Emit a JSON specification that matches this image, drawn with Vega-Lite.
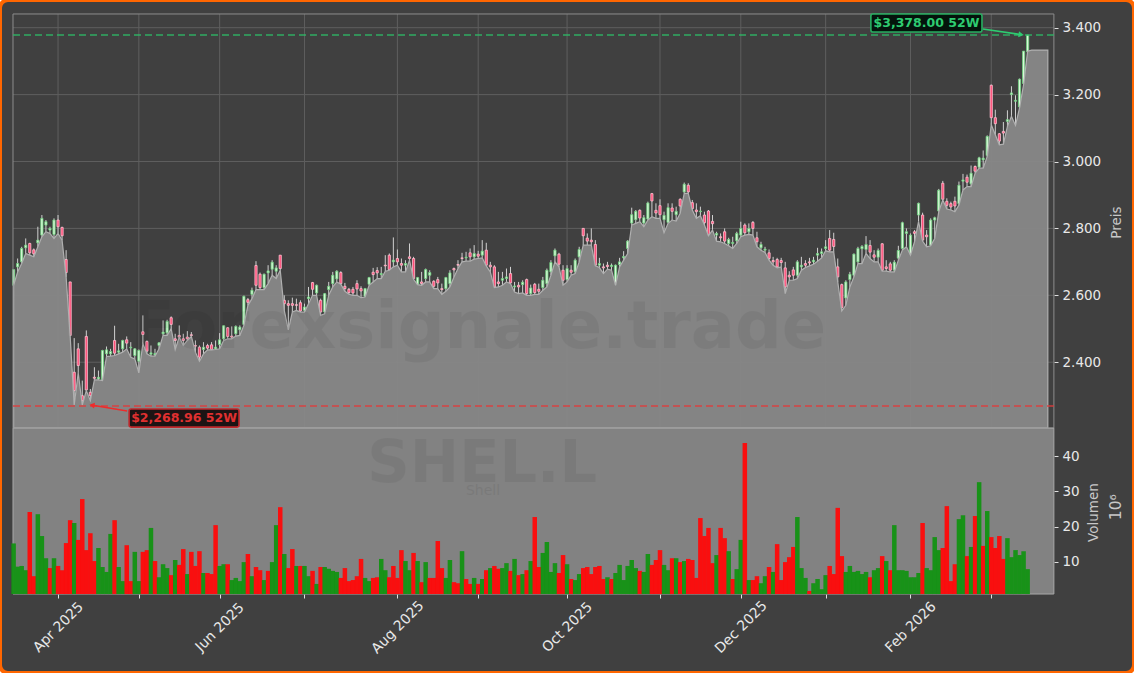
{"$schema":"https://vega.github.io/schema/vega-lite/v6.json","width":1134,"height":673,"padding":0,"autosize":"none","background":"#ffffff","view":{"stroke":"#ff6600","strokeWidth":4,"cornerRadius":8,"fill":"#404040"},"config":{"font":"DejaVu Sans"},
"datasets":{"rows":[
{"i":0,"o":2630,"h":2677,"l":2630,"c":2677,"v":15.2,"vc":"g"},{"i":1,"o":2685,"h":2710,"l":2670,"c":2695,"v":8.6,"vc":"g"},{"i":2,"o":2700,"h":2745,"l":2695,"c":2740,"v":8.8,"vc":"g"},{"i":3,"o":2742,"h":2770,"l":2725,"c":2750,"v":7.6,"vc":"g"},{"i":4,"o":2755,"h":2757,"l":2720,"c":2727,"v":24.1,"vc":"r"},{"i":5,"o":2736,"h":2740,"l":2715,"c":2724,"v":5.9,"vc":"r"},{"i":6,"o":2757,"h":2805,"l":2745,"c":2765,"v":23.5,"vc":"g"},{"i":7,"o":2780,"h":2840,"l":2775,"c":2830,"v":17.3,"vc":"g"},{"i":8,"o":2810,"h":2825,"l":2790,"c":2820,"v":11.0,"vc":"g"},{"i":9,"o":2795,"h":2805,"l":2785,"c":2800,"v":8.2,"vc":"r"},
{"i":10,"o":2782,"h":2830,"l":2770,"c":2825,"v":11.0,"vc":"g"},{"i":11,"o":2825,"h":2840,"l":2785,"c":2805,"v":8.8,"vc":"r"},{"i":12,"o":2803,"h":2805,"l":2765,"c":2778,"v":7.6,"vc":"r"},{"i":13,"o":2707,"h":2735,"l":2655,"c":2668,"v":15.3,"vc":"r"},{"i":14,"o":2640,"h":2640,"l":2478,"c":2480,"v":21.8,"vc":"r"},{"i":15,"o":2370,"h":2472,"l":2272,"c":2315,"v":21.0,"vc":"g"},{"i":16,"o":2440,"h":2457,"l":2368,"c":2390,"v":16.2,"vc":"r"},{"i":17,"o":2300,"h":2345,"l":2272,"c":2285,"v":27.8,"vc":"r"},{"i":18,"o":2477,"h":2495,"l":2315,"c":2317,"v":13.3,"vc":"r"},{"i":19,"o":2310,"h":2320,"l":2285,"c":2300,"v":18.1,"vc":"r"},
{"i":20,"o":2355,"h":2385,"l":2347,"c":2352,"v":10.2,"vc":"r"},{"i":21,"o":2350,"h":2375,"l":2347,"c":2355,"v":13.9,"vc":"g"},{"i":22,"o":2347,"h":2437,"l":2345,"c":2435,"v":8.5,"vc":"g"},{"i":23,"o":2425,"h":2447,"l":2417,"c":2437,"v":7.1,"vc":"g"},{"i":24,"o":2425,"h":2440,"l":2418,"c":2432,"v":17.9,"vc":"g"},{"i":25,"o":2465,"h":2509,"l":2420,"c":2427,"v":21.8,"vc":"r"},{"i":26,"o":2430,"h":2455,"l":2425,"c":2434,"v":8.5,"vc":"g"},{"i":27,"o":2440,"h":2467,"l":2430,"c":2465,"v":4.5,"vc":"g"},{"i":28,"o":2467,"h":2477,"l":2440,"c":2457,"v":14.7,"vc":"r"},{"i":29,"o":2443,"h":2460,"l":2415,"c":2445,"v":4.5,"vc":"r"},
{"i":30,"o":2420,"h":2442,"l":2410,"c":2440,"v":12.8,"vc":"g"},{"i":31,"o":2403,"h":2438,"l":2368,"c":2435,"v":4.5,"vc":"g"},{"i":32,"o":2491,"h":2540,"l":2455,"c":2483,"v":12.8,"vc":"r"},{"i":33,"o":2462,"h":2465,"l":2425,"c":2433,"v":13.3,"vc":"r"},{"i":34,"o":2424,"h":2450,"l":2418,"c":2428,"v":19.6,"vc":"g"},{"i":35,"o":2422,"h":2440,"l":2418,"c":2426,"v":10.2,"vc":"r"},{"i":36,"o":2450,"h":2460,"l":2440,"c":2458,"v":5.6,"vc":"g"},{"i":37,"o":2485,"h":2525,"l":2480,"c":2490,"v":9.3,"vc":"g"},{"i":38,"o":2488,"h":2527,"l":2480,"c":2522,"v":8.2,"vc":"g"},{"i":39,"o":2533,"h":2537,"l":2500,"c":2513,"v":6.2,"vc":"r"},
{"i":40,"o":2470,"h":2485,"l":2438,"c":2465,"v":10.5,"vc":"g"},{"i":41,"o":2480,"h":2510,"l":2475,"c":2475,"v":9.1,"vc":"r"},{"i":42,"o":2470,"h":2485,"l":2450,"c":2465,"v":13.6,"vc":"r"},{"i":43,"o":2475,"h":2493,"l":2465,"c":2470,"v":6.5,"vc":"g"},{"i":44,"o":2482,"h":2490,"l":2477,"c":2480,"v":12.8,"vc":"r"},{"i":45,"o":2450,"h":2465,"l":2430,"c":2448,"v":8.8,"vc":"r"},{"i":46,"o":2445,"h":2450,"l":2403,"c":2415,"v":13.0,"vc":"r"},{"i":47,"o":2438,"h":2460,"l":2425,"c":2445,"v":6.8,"vc":"g"},{"i":48,"o":2450,"h":2455,"l":2437,"c":2442,"v":6.8,"vc":"r"},{"i":49,"o":2452,"h":2460,"l":2437,"c":2438,"v":6.5,"vc":"r"},
{"i":50,"o":2440,"h":2465,"l":2438,"c":2445,"v":20.4,"vc":"r"},{"i":51,"o":2453,"h":2487,"l":2440,"c":2467,"v":8.8,"vc":"g"},{"i":52,"o":2470,"h":2510,"l":2465,"c":2509,"v":9.3,"vc":"g"},{"i":53,"o":2503,"h":2505,"l":2470,"c":2477,"v":9.3,"vc":"r"},{"i":54,"o":2478,"h":2507,"l":2470,"c":2475,"v":4.8,"vc":"g"},{"i":55,"o":2485,"h":2510,"l":2478,"c":2507,"v":5.4,"vc":"g"},{"i":56,"o":2497,"h":2510,"l":2480,"c":2505,"v":4.5,"vc":"g"},{"i":57,"o":2513,"h":2599,"l":2510,"c":2597,"v":9.9,"vc":"g"},{"i":58,"o":2587,"h":2592,"l":2570,"c":2579,"v":12.2,"vc":"r"},{"i":59,"o":2603,"h":2623,"l":2590,"c":2615,"v":5.9,"vc":"g"},
{"i":60,"o":2689,"h":2702,"l":2617,"c":2630,"v":8.5,"vc":"r"},{"i":61,"o":2663,"h":2668,"l":2617,"c":2623,"v":7.6,"vc":"r"},{"i":62,"o":2623,"h":2665,"l":2617,"c":2663,"v":4.8,"vc":"g"},{"i":63,"o":2667,"h":2690,"l":2635,"c":2673,"v":7.4,"vc":"r"},{"i":64,"o":2678,"h":2705,"l":2660,"c":2699,"v":9.9,"vc":"g"},{"i":65,"o":2672,"h":2690,"l":2650,"c":2682,"v":20.4,"vc":"g"},{"i":66,"o":2720,"h":2720,"l":2675,"c":2680,"v":25.5,"vc":"r"},{"i":67,"o":2585,"h":2600,"l":2555,"c":2575,"v":12.2,"vc":"g"},{"i":68,"o":2575,"h":2585,"l":2497,"c":2570,"v":8.2,"vc":"r"},{"i":69,"o":2575,"h":2593,"l":2550,"c":2570,"v":13.6,"vc":"r"},
{"i":70,"o":2572,"h":2590,"l":2555,"c":2570,"v":8.8,"vc":"g"},{"i":71,"o":2578,"h":2585,"l":2550,"c":2553,"v":8.8,"vc":"r"},{"i":72,"o":2555,"h":2575,"l":2550,"c":2565,"v":8.8,"vc":"g"},{"i":73,"o":2590,"h":2625,"l":2575,"c":2595,"v":5.9,"vc":"g"},{"i":74,"o":2638,"h":2640,"l":2600,"c":2618,"v":7.4,"vc":"r"},{"i":75,"o":2607,"h":2632,"l":2600,"c":2630,"v":3.7,"vc":"g"},{"i":76,"o":2585,"h":2590,"l":2540,"c":2550,"v":8.5,"vc":"r"},{"i":77,"o":2550,"h":2607,"l":2545,"c":2605,"v":8.5,"vc":"g"},{"i":78,"o":2617,"h":2640,"l":2600,"c":2627,"v":8.0,"vc":"g"},{"i":79,"o":2635,"h":2670,"l":2625,"c":2660,"v":7.4,"vc":"g"},
{"i":80,"o":2649,"h":2675,"l":2640,"c":2672,"v":7.1,"vc":"g"},{"i":81,"o":2668,"h":2672,"l":2633,"c":2635,"v":5.4,"vc":"r"},{"i":82,"o":2627,"h":2637,"l":2612,"c":2620,"v":8.2,"vc":"r"},{"i":83,"o":2618,"h":2622,"l":2603,"c":2608,"v":4.5,"vc":"r"},{"i":84,"o":2618,"h":2625,"l":2600,"c":2607,"v":4.8,"vc":"r"},{"i":85,"o":2635,"h":2645,"l":2600,"c":2619,"v":5.9,"vc":"r"},{"i":86,"o":2620,"h":2627,"l":2593,"c":2613,"v":10.8,"vc":"r"},{"i":87,"o":2597,"h":2622,"l":2595,"c":2620,"v":5.4,"vc":"g"},{"i":88,"o":2633,"h":2655,"l":2630,"c":2653,"v":4.5,"vc":"g"},{"i":89,"o":2669,"h":2682,"l":2640,"c":2662,"v":5.4,"vc":"r"},
{"i":90,"o":2674,"h":2684,"l":2650,"c":2667,"v":5.6,"vc":"r"},{"i":91,"o":2662,"h":2685,"l":2650,"c":2665,"v":10.8,"vc":"g"},{"i":92,"o":2690,"h":2720,"l":2672,"c":2688,"v":7.6,"vc":"g"},{"i":93,"o":2720,"h":2725,"l":2675,"c":2677,"v":5.6,"vc":"r"},{"i":94,"o":2700,"h":2773,"l":2685,"c":2705,"v":8.8,"vc":"r"},{"i":95,"o":2710,"h":2737,"l":2690,"c":2700,"v":5.4,"vc":"r"},{"i":96,"o":2695,"h":2710,"l":2670,"c":2690,"v":13.3,"vc":"r"},{"i":97,"o":2690,"h":2705,"l":2670,"c":2695,"v":10.2,"vc":"g"},{"i":98,"o":2715,"h":2755,"l":2705,"c":2710,"v":7.6,"vc":"g"},{"i":99,"o":2710,"h":2715,"l":2648,"c":2650,"v":12.5,"vc":"r"},
{"i":100,"o":2633,"h":2655,"l":2632,"c":2653,"v":10.2,"vc":"g"},{"i":101,"o":2640,"h":2670,"l":2630,"c":2635,"v":4.2,"vc":"r"},{"i":102,"o":2650,"h":2680,"l":2640,"c":2677,"v":9.9,"vc":"g"},{"i":103,"o":2660,"h":2675,"l":2640,"c":2668,"v":5.4,"vc":"r"},{"i":104,"o":2642,"h":2645,"l":2620,"c":2627,"v":5.4,"vc":"r"},{"i":105,"o":2647,"h":2655,"l":2620,"c":2637,"v":15.9,"vc":"r"},{"i":106,"o":2620,"h":2635,"l":2603,"c":2617,"v":8.2,"vc":"r"},{"i":107,"o":2620,"h":2655,"l":2612,"c":2653,"v":5.4,"vc":"g"},{"i":108,"o":2635,"h":2675,"l":2625,"c":2667,"v":10.5,"vc":"g"},{"i":109,"o":2680,"h":2683,"l":2655,"c":2676,"v":4.2,"vc":"r"},
{"i":110,"o":2692,"h":2705,"l":2680,"c":2690,"v":3.9,"vc":"r"},{"i":111,"o":2712,"h":2727,"l":2700,"c":2710,"v":13.0,"vc":"g"},{"i":112,"o":2712,"h":2730,"l":2702,"c":2714,"v":5.1,"vc":"r"},{"i":113,"o":2727,"h":2740,"l":2702,"c":2715,"v":3.7,"vc":"r"},{"i":114,"o":2715,"h":2750,"l":2708,"c":2725,"v":5.4,"vc":"g"},{"i":115,"o":2723,"h":2733,"l":2710,"c":2717,"v":3.7,"vc":"r"},{"i":116,"o":2720,"h":2765,"l":2712,"c":2732,"v":5.1,"vc":"g"},{"i":117,"o":2735,"h":2757,"l":2688,"c":2690,"v":7.6,"vc":"r"},{"i":118,"o":2690,"h":2700,"l":2670,"c":2685,"v":8.2,"vc":"g"},{"i":119,"o":2685,"h":2690,"l":2623,"c":2625,"v":8.8,"vc":"r"},
{"i":120,"o":2640,"h":2670,"l":2625,"c":2635,"v":8.0,"vc":"r"},{"i":121,"o":2645,"h":2670,"l":2630,"c":2650,"v":8.2,"vc":"g"},{"i":122,"o":2650,"h":2680,"l":2640,"c":2655,"v":9.6,"vc":"g"},{"i":123,"o":2665,"h":2685,"l":2635,"c":2637,"v":7.4,"vc":"r"},{"i":124,"o":2625,"h":2640,"l":2610,"c":2628,"v":10.8,"vc":"g"},{"i":125,"o":2630,"h":2640,"l":2605,"c":2625,"v":6.2,"vc":"r"},{"i":126,"o":2632,"h":2645,"l":2607,"c":2639,"v":6.5,"vc":"g"},{"i":127,"o":2647,"h":2650,"l":2600,"c":2605,"v":7.6,"vc":"r"},{"i":128,"o":2605,"h":2632,"l":2600,"c":2622,"v":10.2,"vc":"g"},{"i":129,"o":2633,"h":2637,"l":2603,"c":2608,"v":22.7,"vc":"r"},
{"i":130,"o":2618,"h":2635,"l":2603,"c":2612,"v":8.5,"vc":"r"},{"i":131,"o":2623,"h":2655,"l":2615,"c":2645,"v":12.5,"vc":"g"},{"i":132,"o":2635,"h":2680,"l":2625,"c":2675,"v":15.6,"vc":"g"},{"i":133,"o":2670,"h":2705,"l":2660,"c":2698,"v":7.1,"vc":"g"},{"i":134,"o":2718,"h":2740,"l":2700,"c":2735,"v":9.6,"vc":"g"},{"i":135,"o":2723,"h":2727,"l":2685,"c":2693,"v":6.8,"vc":"r"},{"i":136,"o":2675,"h":2690,"l":2630,"c":2645,"v":11.9,"vc":"r"},{"i":137,"o":2647,"h":2690,"l":2640,"c":2680,"v":9.3,"vc":"g"},{"i":138,"o":2675,"h":2690,"l":2660,"c":2669,"v":5.1,"vc":"r"},{"i":139,"o":2670,"h":2710,"l":2665,"c":2705,"v":4.8,"vc":"g"},
{"i":140,"o":2715,"h":2745,"l":2700,"c":2737,"v":6.5,"vc":"g"},{"i":141,"o":2800,"h":2800,"l":2750,"c":2778,"v":8.2,"vc":"r"},{"i":142,"o":2771,"h":2785,"l":2750,"c":2762,"v":8.5,"vc":"r"},{"i":143,"o":2765,"h":2800,"l":2750,"c":2760,"v":6.5,"vc":"r"},{"i":144,"o":2752,"h":2765,"l":2688,"c":2690,"v":8.5,"vc":"r"},{"i":145,"o":2690,"h":2712,"l":2683,"c":2695,"v":8.8,"vc":"r"},{"i":146,"o":2685,"h":2695,"l":2665,"c":2682,"v":5.1,"vc":"r"},{"i":147,"o":2690,"h":2700,"l":2678,"c":2686,"v":5.6,"vc":"g"},{"i":148,"o":2686,"h":2695,"l":2675,"c":2690,"v":5.1,"vc":"r"},{"i":149,"o":2632,"h":2692,"l":2630,"c":2690,"v":6.8,"vc":"g"},
{"i":150,"o":2692,"h":2712,"l":2685,"c":2700,"v":9.1,"vc":"g"},{"i":151,"o":2712,"h":2732,"l":2705,"c":2716,"v":4.8,"vc":"g"},{"i":152,"o":2740,"h":2765,"l":2725,"c":2762,"v":8.8,"vc":"g"},{"i":153,"o":2816,"h":2862,"l":2810,"c":2841,"v":10.5,"vc":"g"},{"i":154,"o":2826,"h":2855,"l":2815,"c":2851,"v":8.2,"vc":"g"},{"i":155,"o":2854,"h":2857,"l":2820,"c":2831,"v":7.4,"vc":"r"},{"i":156,"o":2816,"h":2840,"l":2805,"c":2832,"v":7.1,"vc":"g"},{"i":157,"o":2828,"h":2880,"l":2825,"c":2876,"v":12.2,"vc":"g"},{"i":158,"o":2904,"h":2906,"l":2835,"c":2882,"v":9.1,"vc":"r"},{"i":159,"o":2854,"h":2875,"l":2830,"c":2846,"v":10.5,"vc":"r"},
{"i":160,"o":2868,"h":2887,"l":2830,"c":2841,"v":13.3,"vc":"r"},{"i":161,"o":2826,"h":2850,"l":2787,"c":2839,"v":9.1,"vc":"g"},{"i":162,"o":2818,"h":2875,"l":2815,"c":2862,"v":7.6,"vc":"g"},{"i":163,"o":2861,"h":2875,"l":2825,"c":2851,"v":11.0,"vc":"r"},{"i":164,"o":2841,"h":2865,"l":2822,"c":2851,"v":11.0,"vc":"g"},{"i":165,"o":2887,"h":2890,"l":2845,"c":2867,"v":9.9,"vc":"r"},{"i":166,"o":2909,"h":2937,"l":2905,"c":2932,"v":10.2,"vc":"g"},{"i":167,"o":2929,"h":2935,"l":2905,"c":2909,"v":10.8,"vc":"r"},{"i":168,"o":2877,"h":2885,"l":2855,"c":2859,"v":10.5,"vc":"r"},{"i":169,"o":2855,"h":2875,"l":2830,"c":2850,"v":5.4,"vc":"r"},
{"i":170,"o":2850,"h":2865,"l":2838,"c":2852,"v":22.4,"vc":"r"},{"i":171,"o":2840,"h":2850,"l":2810,"c":2817,"v":17.3,"vc":"r"},{"i":172,"o":2852,"h":2855,"l":2778,"c":2780,"v":19.6,"vc":"r"},{"i":173,"o":2821,"h":2840,"l":2795,"c":2814,"v":9.6,"vc":"r"},{"i":174,"o":2780,"h":2790,"l":2762,"c":2785,"v":11.9,"vc":"g"},{"i":175,"o":2775,"h":2785,"l":2760,"c":2772,"v":19.6,"vc":"r"},{"i":176,"o":2790,"h":2800,"l":2755,"c":2762,"v":16.7,"vc":"r"},{"i":177,"o":2755,"h":2772,"l":2748,"c":2767,"v":13.0,"vc":"g"},{"i":178,"o":2755,"h":2775,"l":2740,"c":2758,"v":5.1,"vc":"r"},{"i":179,"o":2763,"h":2790,"l":2755,"c":2785,"v":7.9,"vc":"g"},
{"i":180,"o":2780,"h":2820,"l":2775,"c":2800,"v":16.2,"vc":"g"},{"i":181,"o":2810,"h":2815,"l":2780,"c":2787,"v":43.7,"vc":"r"},{"i":182,"o":2790,"h":2815,"l":2782,"c":2800,"v":4.8,"vc":"g"},{"i":183,"o":2818,"h":2822,"l":2780,"c":2800,"v":4.8,"vc":"r"},{"i":184,"o":2772,"h":2790,"l":2745,"c":2760,"v":5.9,"vc":"r"},{"i":185,"o":2742,"h":2760,"l":2735,"c":2752,"v":3.9,"vc":"g"},{"i":186,"o":2735,"h":2745,"l":2728,"c":2738,"v":5.9,"vc":"g"},{"i":187,"o":2727,"h":2737,"l":2705,"c":2710,"v":8.5,"vc":"r"},{"i":188,"o":2704,"h":2715,"l":2690,"c":2700,"v":7.1,"vc":"g"},{"i":189,"o":2707,"h":2712,"l":2682,"c":2685,"v":15.0,"vc":"r"},
{"i":190,"o":2704,"h":2712,"l":2685,"c":2698,"v":4.8,"vc":"r"},{"i":191,"o":2682,"h":2700,"l":2605,"c":2625,"v":9.9,"vc":"r"},{"i":192,"o":2660,"h":2672,"l":2645,"c":2655,"v":11.3,"vc":"r"},{"i":193,"o":2676,"h":2685,"l":2645,"c":2660,"v":14.2,"vc":"r"},{"i":194,"o":2660,"h":2705,"l":2650,"c":2700,"v":22.7,"vc":"g"},{"i":195,"o":2685,"h":2715,"l":2675,"c":2690,"v":8.2,"vc":"g"},{"i":196,"o":2695,"h":2705,"l":2683,"c":2690,"v":5.4,"vc":"g"},{"i":197,"o":2700,"h":2712,"l":2688,"c":2697,"v":1.7,"vc":"r"},{"i":198,"o":2700,"h":2715,"l":2693,"c":2705,"v":3.9,"vc":"g"},{"i":199,"o":2720,"h":2742,"l":2702,"c":2725,"v":5.1,"vc":"g"},
{"i":200,"o":2725,"h":2740,"l":2712,"c":2730,"v":2.2,"vc":"g"},{"i":201,"o":2740,"h":2765,"l":2733,"c":2745,"v":6.2,"vc":"g"},{"i":202,"o":2770,"h":2795,"l":2730,"c":2735,"v":8.8,"vc":"r"},{"i":203,"o":2767,"h":2787,"l":2730,"c":2746,"v":6.5,"vc":"r"},{"i":204,"o":2685,"h":2710,"l":2640,"c":2655,"v":25.3,"vc":"r"},{"i":205,"o":2632,"h":2635,"l":2553,"c":2563,"v":11.6,"vc":"r"},{"i":206,"o":2592,"h":2645,"l":2570,"c":2640,"v":7.1,"vc":"g"},{"i":207,"o":2647,"h":2670,"l":2625,"c":2663,"v":8.8,"vc":"g"},{"i":208,"o":2660,"h":2725,"l":2655,"c":2723,"v":7.1,"vc":"g"},{"i":209,"o":2700,"h":2745,"l":2695,"c":2740,"v":7.4,"vc":"g"},
{"i":210,"o":2739,"h":2750,"l":2695,"c":2746,"v":6.5,"vc":"g"},{"i":211,"o":2737,"h":2777,"l":2725,"c":2752,"v":7.1,"vc":"g"},{"i":212,"o":2749,"h":2765,"l":2710,"c":2729,"v":5.6,"vc":"r"},{"i":213,"o":2721,"h":2735,"l":2700,"c":2714,"v":7.6,"vc":"g"},{"i":214,"o":2714,"h":2740,"l":2700,"c":2734,"v":8.2,"vc":"g"},{"i":215,"o":2754,"h":2756,"l":2672,"c":2675,"v":11.6,"vc":"r"},{"i":216,"o":2685,"h":2705,"l":2672,"c":2680,"v":10.2,"vc":"g"},{"i":217,"o":2694,"h":2700,"l":2670,"c":2675,"v":7.6,"vc":"r"},{"i":218,"o":2675,"h":2705,"l":2670,"c":2699,"v":20.4,"vc":"g"},{"i":219,"o":2711,"h":2748,"l":2705,"c":2734,"v":7.6,"vc":"g"},
{"i":220,"o":2740,"h":2820,"l":2735,"c":2817,"v":7.6,"vc":"g"},{"i":221,"o":2785,"h":2800,"l":2745,"c":2790,"v":7.4,"vc":"g"},{"i":222,"o":2722,"h":2785,"l":2720,"c":2780,"v":5.6,"vc":"g"},{"i":223,"o":2790,"h":2795,"l":2760,"c":2785,"v":5.6,"vc":"g"},{"i":224,"o":2840,"h":2877,"l":2820,"c":2875,"v":6.8,"vc":"g"},{"i":225,"o":2840,"h":2847,"l":2762,"c":2765,"v":21.0,"vc":"r"},{"i":226,"o":2780,"h":2795,"l":2745,"c":2775,"v":8.2,"vc":"g"},{"i":227,"o":2750,"h":2830,"l":2748,"c":2825,"v":7.6,"vc":"g"},{"i":228,"o":2825,"h":2835,"l":2770,"c":2832,"v":17.0,"vc":"g"},{"i":229,"o":2852,"h":2918,"l":2850,"c":2914,"v":13.3,"vc":"g"},
{"i":230,"o":2935,"h":2942,"l":2885,"c":2887,"v":13.9,"vc":"r"},{"i":231,"o":2881,"h":2890,"l":2858,"c":2869,"v":25.8,"vc":"r"},{"i":232,"o":2874,"h":2880,"l":2855,"c":2864,"v":4.5,"vc":"r"},{"i":233,"o":2881,"h":2895,"l":2850,"c":2867,"v":9.3,"vc":"r"},{"i":234,"o":2874,"h":2940,"l":2870,"c":2929,"v":22.1,"vc":"g"},{"i":235,"o":2941,"h":2963,"l":2915,"c":2945,"v":23.2,"vc":"g"},{"i":236,"o":2953,"h":2961,"l":2925,"c":2938,"v":11.6,"vc":"r"},{"i":237,"o":2933,"h":2988,"l":2925,"c":2965,"v":14.2,"vc":"g"},{"i":238,"o":2985,"h":2988,"l":2965,"c":2971,"v":23.0,"vc":"r"},{"i":239,"o":2983,"h":3014,"l":2980,"c":3011,"v":32.6,"vc":"g"},
{"i":240,"o":3005,"h":3033,"l":2980,"c":3010,"v":14.5,"vc":"r"},{"i":241,"o":3018,"h":3078,"l":3015,"c":3075,"v":24.4,"vc":"g"},{"i":242,"o":3228,"h":3230,"l":3110,"c":3131,"v":17.0,"vc":"r"},{"i":243,"o":3131,"h":3155,"l":3080,"c":3113,"v":13.9,"vc":"r"},{"i":244,"o":3083,"h":3085,"l":3050,"c":3061,"v":17.3,"vc":"r"},{"i":245,"o":3090,"h":3118,"l":3052,"c":3085,"v":10.8,"vc":"r"},{"i":246,"o":3120,"h":3153,"l":3105,"c":3125,"v":16.7,"vc":"g"},{"i":247,"o":3200,"h":3225,"l":3135,"c":3205,"v":11.3,"vc":"g"},{"i":248,"o":3180,"h":3198,"l":3108,"c":3183,"v":13.3,"vc":"g"},{"i":249,"o":3163,"h":3248,"l":3160,"c":3246,"v":11.9,"vc":"g"},
{"i":250,"o":3233,"h":3330,"l":3230,"c":3330,"v":13.0,"vc":"g"},{"i":251,"o":3328,"h":3378,"l":3330,"c":3378,"v":7.9,"vc":"g"},
{"i":252,"l":3333},{"i":253,"l":3333},{"i":254,"l":3333},{"i":255,"l":3333},{"i":256,"l":3333}],
"gridY":[{"p":3400},{"p":3200},{"p":3000},{"p":2800},{"p":2600},{"p":2400}],
"gridX":[{"t":11},{"t":31},{"t":51},{"t":72},{"t":95},{"t":115},{"t":137},{"t":160},{"t":180},{"t":201},{"t":222},{"t":242}]},
"layer":[
{"resolve":{"axis":{"x":"independent","y":"independent"}},"layer":[
{"data":{"name":"gridY"},"mark":{"type":"rule","color":"#5e5e5e","strokeWidth":1},"encoding":{"x":{"datum":-0.15,"type":"quantitative","scale":{"domain":[-3.366,277.33],"nice":false,"zero":false,"padding":0},"axis":{"values":[11,31,51,72,95,115,137,160,180,201,222,242],"orient":"bottom","offset":-79,"title":null,"grid":false,"domain":false,"tickColor":"#e0e0e0","tickSize":4,"labelColor":"#e8e8e8","labelFontSize":14,"labelFont":"DejaVu Sans","labelAngle":-45,"labelAlign":"center","labelBaseline":"middle","labelPadding":29,"labelOverlap":false,"labelFlush":false,"labelBound":false,"labelExpr":"datum.value==11?'Apr 2025':datum.value==51?'Jun 2025':datum.value==95?'Aug 2025':datum.value==137?'Oct 2025':datum.value==180?'Dec 2025':datum.value==222?'Feb 2026':''"}},"x2":{"datum":257.5},"y":{"field":"p","type":"quantitative","scale":{"domain":[1470.9,3482.8],"nice":false,"zero":false},"axis":{"values":[3400,3200,3000,2800,2600,2400],"orient":"right","offset":-80,"grid":false,"domain":false,"tickColor":"#e0e0e0","tickSize":4,"labelColor":"#e8e8e8","labelFontSize":13.5,"labelFont":"DejaVu Sans","labelPadding":4,"labelOverlap":false,"labelFlush":false,"labelBound":false,"labelExpr":"replace(format(datum.value,','),',','.')","title":"Preis","titleColor":"#c8c8c8","titleFontSize":13.5,"titleFontWeight":"normal","titleFont":"DejaVu Sans","titleAngle":270,"titleAlign":"center","titleBaseline":"middle","titleX":62,"titleY":222}}}},
{"data":{"name":"gridX"},"mark":{"type":"rule","color":"#5e5e5e","strokeWidth":1},"encoding":{"x":{"field":"t","type":"quantitative","axis":null,"scale":{"domain":[-3.366,277.33],"nice":false,"zero":false,"padding":0}},"y":{"datum":3441,"type":"quantitative","axis":null,"scale":{"domain":[1470.9,3482.8],"nice":false,"zero":false}},"y2":{"datum":2203}}},
{"data":{"name":"rows"},"transform":[{"filter":"datum.o!=null"}],"mark":{"type":"rule","color":"#d0d0d0","strokeWidth":1},"encoding":{"x":{"field":"i","type":"quantitative","axis":null,"scale":{"domain":[-3.366,277.33],"nice":false,"zero":false,"padding":0}},"y":{"field":"h","type":"quantitative","axis":null,"scale":{"domain":[1470.9,3482.8],"nice":false,"zero":false}},"y2":{"field":"l"}}},
{"data":{"name":"rows"},"transform":[{"filter":"datum.o!=null"}],"mark":{"type":"bar","width":2.2,"strokeWidth":0.8},"encoding":{"x":{"field":"i","type":"quantitative","axis":null,"scale":{"domain":[-3.366,277.33],"nice":false,"zero":false,"padding":0}},"y":{"field":"o","type":"quantitative","axis":null,"scale":{"domain":[1470.9,3482.8],"nice":false,"zero":false}},"y2":{"field":"c"},"fill":{"condition":{"test":"datum.c>=datum.o","value":"#d8f8d8"},"value":"#ff4d78"},"stroke":{"condition":{"test":"datum.c>=datum.o","value":"#6fd07f"},"value":"#ffc0d0"}}},
{"data":{"name":"rows"},"mark":{"type":"area","fill":"#888888","fillOpacity":0.95,"stroke":"#b0b0b0","strokeWidth":1.2,"interpolate":"linear"},"encoding":{"x":{"field":"i","type":"quantitative","axis":null,"scale":{"domain":[-3.366,277.33],"nice":false,"zero":false,"padding":0}},"y":{"field":"l","type":"quantitative","axis":null,"scale":{"domain":[1470.9,3482.8],"nice":false,"zero":false}},"y2":{"datum":2203}}},
{"data":{"values":[{"panel":"volume"}]},"mark":{"type":"rect","fill":"#828282"},"encoding":{"x":{"datum":-0.15,"type":"quantitative","axis":null,"scale":{"domain":[-3.366,277.33],"nice":false,"zero":false,"padding":0}},"x2":{"datum":257.5},"y":{"datum":2203,"type":"quantitative","axis":null,"scale":{"domain":[1470.9,3482.8],"nice":false,"zero":false}},"y2":{"datum":1707}}},
{"data":{"values":[{"panel":"frame"}]},"mark":{"type":"rect","fill":null,"stroke":"#8c8c8c","strokeWidth":1},"encoding":{"x":{"datum":-0.15,"type":"quantitative","axis":null,"scale":{"domain":[-3.366,277.33],"nice":false,"zero":false,"padding":0}},"x2":{"datum":257.5},"y":{"datum":3441,"type":"quantitative","axis":null,"scale":{"domain":[1470.9,3482.8],"nice":false,"zero":false}},"y2":{"datum":2203}}},
{"data":{"values":[{"panel":"frame2"}]},"mark":{"type":"rect","fill":null,"stroke":"#a8a8a8","strokeWidth":1},"encoding":{"x":{"datum":-0.15,"type":"quantitative","axis":null,"scale":{"domain":[-3.366,277.33],"nice":false,"zero":false,"padding":0}},"x2":{"datum":257.5},"y":{"datum":2203,"type":"quantitative","axis":null,"scale":{"domain":[1470.9,3482.8],"nice":false,"zero":false}},"y2":{"datum":1707}}},
{"data":{"values":[{"w":"Forexsignale.trade"}]},"mark":{"type":"text","font":"DejaVu Sans","fontWeight":"bold","fontSize":65.5,"color":"#000000","opacity":0.05,"align":"center","baseline":"alphabetic"},"encoding":{"text":{"field":"w"},"x":{"datum":115,"type":"quantitative","axis":null,"scale":{"domain":[-3.366,277.33],"nice":false,"zero":false,"padding":0}},"y":{"datum":2442,"type":"quantitative","axis":null,"scale":{"domain":[1470.9,3482.8],"nice":false,"zero":false}}}},
{"data":{"values":[{"w":"SHEL.L"}]},"mark":{"type":"text","font":"DejaVu Sans","fontWeight":"bold","fontSize":59,"color":"#000000","opacity":0.05,"align":"center","baseline":"alphabetic"},"encoding":{"text":{"field":"w"},"x":{"datum":116,"type":"quantitative","axis":null,"scale":{"domain":[-3.366,277.33],"nice":false,"zero":false,"padding":0}},"y":{"datum":2042,"type":"quantitative","axis":null,"scale":{"domain":[1470.9,3482.8],"nice":false,"zero":false}}}},
{"data":{"values":[{"w":"Shell"}]},"mark":{"type":"text","font":"DejaVu Sans","fontSize":14,"color":"#000000","opacity":0.06,"align":"center","baseline":"alphabetic"},"encoding":{"text":{"field":"w"},"x":{"datum":116.2,"type":"quantitative","axis":null,"scale":{"domain":[-3.366,277.33],"nice":false,"zero":false,"padding":0}},"y":{"datum":2003,"type":"quantitative","axis":null,"scale":{"domain":[1470.9,3482.8],"nice":false,"zero":false}}}},
{"data":{"values":[{"level":3378}]},"mark":{"type":"rule","color":"#2fb866","strokeWidth":1.5,"strokeDash":[7,4],"opacity":0.9},"encoding":{"x":{"datum":-0.15,"type":"quantitative","axis":null,"scale":{"domain":[-3.366,277.33],"nice":false,"zero":false,"padding":0}},"x2":{"datum":257.5},"y":{"field":"level","type":"quantitative","axis":null,"scale":{"domain":[1470.9,3482.8],"nice":false,"zero":false}}}},
{"data":{"values":[{"level":2268.96}]},"mark":{"type":"rule","color":"#e03c3c","strokeWidth":1.5,"strokeDash":[7,4],"opacity":0.9},"encoding":{"x":{"datum":-0.15,"type":"quantitative","axis":null,"scale":{"domain":[-3.366,277.33],"nice":false,"zero":false,"padding":0}},"x2":{"datum":257.5},"y":{"field":"level","type":"quantitative","axis":null,"scale":{"domain":[1470.9,3482.8],"nice":false,"zero":false}}}},
{"data":{"values":[{"a":"high"}]},"mark":{"type":"rule","color":"#2ecc71","strokeWidth":1.6},"encoding":{"x":{"datum":239.9,"type":"quantitative","axis":null,"scale":{"domain":[-3.366,277.33],"nice":false,"zero":false,"padding":0}},"x2":{"datum":249.6},"y":{"datum":3396,"type":"quantitative","axis":null,"scale":{"domain":[1470.9,3482.8],"nice":false,"zero":false}},"y2":{"datum":3379}}},
{"data":{"values":[{"a":"high"}]},"mark":{"type":"point","shape":"triangle-right","filled":true,"size":36,"angle":8,"color":"#2ecc71","opacity":1},"encoding":{"x":{"datum":249.4,"type":"quantitative","axis":null,"scale":{"domain":[-3.366,277.33],"nice":false,"zero":false,"padding":0}},"y":{"datum":3379.5,"type":"quantitative","axis":null,"scale":{"domain":[1470.9,3482.8],"nice":false,"zero":false}}}},
{"data":{"values":[{"a":"low"}]},"mark":{"type":"rule","color":"#ef2b2b","strokeWidth":1.6},"encoding":{"x":{"datum":28.1,"type":"quantitative","axis":null,"scale":{"domain":[-3.366,277.33],"nice":false,"zero":false,"padding":0}},"x2":{"datum":19.2},"y":{"datum":2254,"type":"quantitative","axis":null,"scale":{"domain":[1470.9,3482.8],"nice":false,"zero":false}},"y2":{"datum":2272}}},
{"data":{"values":[{"a":"low"}]},"mark":{"type":"point","shape":"triangle-left","filled":true,"size":36,"angle":9,"color":"#ef2b2b","opacity":1},"encoding":{"x":{"datum":19.4,"type":"quantitative","axis":null,"scale":{"domain":[-3.366,277.33],"nice":false,"zero":false,"padding":0}},"y":{"datum":2271.5,"type":"quantitative","axis":null,"scale":{"domain":[1470.9,3482.8],"nice":false,"zero":false}}}},
{"data":{"values":[{"a":"high"}]},"mark":{"type":"rect","fill":"#04140c","stroke":"#27ae60","strokeWidth":1.6,"cornerRadius":2},"encoding":{"x":{"datum":212.2,"type":"quantitative","axis":null,"scale":{"domain":[-3.366,277.33],"nice":false,"zero":false,"padding":0}},"x2":{"datum":239.7},"y":{"datum":3441,"type":"quantitative","axis":null,"scale":{"domain":[1470.9,3482.8],"nice":false,"zero":false}},"y2":{"datum":3387}}},
{"data":{"values":[{"w":"$3,378.00 52W"}]},"mark":{"type":"text","font":"DejaVu Sans","fontWeight":"bold","fontSize":12.5,"color":"#2ecc71","align":"center","baseline":"middle"},"encoding":{"text":{"field":"w"},"x":{"datum":225.96,"type":"quantitative","axis":null,"scale":{"domain":[-3.366,277.33],"nice":false,"zero":false,"padding":0}},"y":{"datum":3414,"type":"quantitative","axis":null,"scale":{"domain":[1470.9,3482.8],"nice":false,"zero":false}}}},
{"data":{"values":[{"a":"low"}]},"mark":{"type":"rect","fill":"#1c1414","stroke":"#c0282c","strokeWidth":1.6,"cornerRadius":2},"encoding":{"x":{"datum":28.6,"type":"quantitative","axis":null,"scale":{"domain":[-3.366,277.33],"nice":false,"zero":false,"padding":0}},"x2":{"datum":55.8},"y":{"datum":2260,"type":"quantitative","axis":null,"scale":{"domain":[1470.9,3482.8],"nice":false,"zero":false}},"y2":{"datum":2206}}},
{"data":{"values":[{"w":"$2,268.96 52W"}]},"mark":{"type":"text","font":"DejaVu Sans","fontWeight":"bold","fontSize":12.5,"color":"#e03030","align":"center","baseline":"middle"},"encoding":{"text":{"field":"w"},"x":{"datum":42.2,"type":"quantitative","axis":null,"scale":{"domain":[-3.366,277.33],"nice":false,"zero":false,"padding":0}},"y":{"datum":2233,"type":"quantitative","axis":null,"scale":{"domain":[1470.9,3482.8],"nice":false,"zero":false}}}}
]},
{"resolve":{"axis":{"x":"independent","y":"independent"}},"layer":[
{"data":{"name":"rows"},"transform":[{"filter":"datum.v!=null"}],"mark":{"type":"bar","width":4.5,"opacity":0.95},"encoding":{"x":{"field":"i","type":"quantitative","axis":null,"scale":{"domain":[-3.366,277.33],"nice":false,"zero":false,"padding":0}},"y":{"field":"v","type":"quantitative","scale":{"domain":[-21.6,169.55],"nice":false,"zero":false},"axis":{"values":[10,20,30,40],"orient":"right","offset":-80,"grid":false,"domain":false,"tickColor":"#e0e0e0","tickSize":4,"labelColor":"#e8e8e8","labelFontSize":13.5,"labelFont":"DejaVu Sans","labelPadding":4,"labelOverlap":false,"labelFlush":false,"labelBound":false,"title":"Volumen","titleColor":"#c8c8c8","titleFontSize":13.5,"titleFontWeight":"normal","titleFont":"DejaVu Sans","titleAngle":270,"titleAlign":"center","titleBaseline":"middle","titleX":39,"titleY":512}},"y2":{"datum":0.82},"fill":{"condition":{"test":"datum.vc=='g'","value":"#129212"},"value":"#ff0808"}}},
{"data":{"values":[{"w":"10⁶"}]},"mark":{"type":"text","font":"DejaVu Sans","fontSize":15.5,"color":"#c8c8c8","angle":270,"align":"center","baseline":"middle"},"encoding":{"text":{"field":"w"},"x":{"datum":272.9,"type":"quantitative","axis":null,"scale":{"domain":[-3.366,277.33],"nice":false,"zero":false,"padding":0}},"y":{"datum":25.5,"type":"quantitative","axis":null,"scale":{"domain":[-21.6,169.55],"nice":false,"zero":false}}}}
]}
],
"resolve":{"scale":{"y":"independent"},"axis":{"y":"independent","x":"independent"}}}
